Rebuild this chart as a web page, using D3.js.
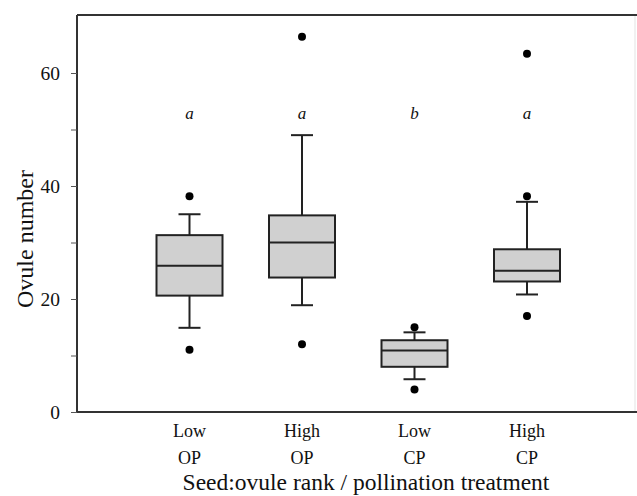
<!DOCTYPE html>
<html>
<head>
<meta charset="utf-8">
<script src="https://cdn.jsdelivr.net/npm/d3@7"></script>
<style>
  body { margin: 0; background: #fff; }
  text { font-family: "Liberation Serif", "Times New Roman", serif; fill: #111; }
</style>
</head>
<body>
<script>
var rank = ["Low", "High", "Low", "High"];
var treatment = ["OP", "OP", "CP", "CP"];
var q1 = [20.6, 23.8, 8.0, 23.1];
var median = [25.9, 30.0, 10.9, 25.0];
var q3 = [31.3, 34.8, 12.7, 28.8];
var whiskerLow = [14.9, 18.9, 5.8, 20.8];
var whiskerHigh = [35.0, 49.0, 14.1, 37.2];
var outliers = [[38.2, 11.0], [66.4, 12.0], [15.0, 4.0], [63.4, 38.2, 17.0]];
var letters = ["a", "a", "b", "a"];
var letterLevel = 53;
var yTicks = [0, 10, 20, 30, 40, 50, 60];

var width = 637,
    height = 496;

var idx = d3.range(rank.length);

var x = d3.scalePoint()
    .domain(idx)
    .range([189.5, 527]);

var y = d3.scaleLinear()
    .domain([0, 70])
    .range([412, 16.5]);

var boxW = 66, capW = 22;

var svg = d3.select("body").append("svg")
    .attr("width", width)
    .attr("height", height);

// frame: top and bottom lines run to the edge, faint right edge
svg.append("line")
    .attr("x1", 635).attr("x2", 635)
    .attr("y1", 15).attr("y2", 412)
    .style("stroke", "#ececec").style("stroke-width", 1.5);
svg.append("line")
    .attr("x1", 77).attr("x2", width)
    .attr("y1", 15).attr("y2", 15)
    .style("stroke", "#333").style("stroke-width", 2);
svg.append("line")
    .attr("x1", 77).attr("x2", width)
    .attr("y1", 412).attr("y2", 412)
    .style("stroke", "#333").style("stroke-width", 2);

var yAxis = svg.append("g")
    .attr("transform", "translate(77,0)")
    .call(d3.axisLeft(y)
      .tickValues(yTicks)
      .tickSize(6)
      .tickPadding(11)
      .tickFormat(function(d) { return d % 20 === 0 ? d : ""; }));

yAxis.select(".domain")
    .attr("d", "M0,15V412")
    .style("stroke", "#333").style("stroke-width", 2);
yAxis.selectAll(".tick line").style("stroke", "#555");
yAxis.selectAll(".tick text")
    .style("font-family", "Liberation Serif, serif")
    .style("font-size", "19.5px")
    .style("fill", "#111");

var g = svg.selectAll(".box")
    .data(idx)
  .enter().append("g")
    .attr("class", "box");

// whiskers
g.append("line")
    .attr("x1", function(i) { return x(i); })
    .attr("x2", function(i) { return x(i); })
    .attr("y1", function(i) { return y(whiskerHigh[i]); })
    .attr("y2", function(i) { return y(q3[i]); })
    .style("stroke", "#222").style("stroke-width", 2);
g.append("line")
    .attr("x1", function(i) { return x(i); })
    .attr("x2", function(i) { return x(i); })
    .attr("y1", function(i) { return y(q1[i]); })
    .attr("y2", function(i) { return y(whiskerLow[i]); })
    .style("stroke", "#222").style("stroke-width", 2);
g.append("line")
    .attr("x1", function(i) { return x(i) - capW / 2; })
    .attr("x2", function(i) { return x(i) + capW / 2; })
    .attr("y1", function(i) { return y(whiskerHigh[i]); })
    .attr("y2", function(i) { return y(whiskerHigh[i]); })
    .style("stroke", "#222").style("stroke-width", 2);
g.append("line")
    .attr("x1", function(i) { return x(i) - capW / 2; })
    .attr("x2", function(i) { return x(i) + capW / 2; })
    .attr("y1", function(i) { return y(whiskerLow[i]); })
    .attr("y2", function(i) { return y(whiskerLow[i]); })
    .style("stroke", "#222").style("stroke-width", 2);

g.append("rect")
    .attr("x", function(i) { return x(i) - boxW / 2; })
    .attr("y", function(i) { return y(q3[i]); })
    .attr("width", boxW)
    .attr("height", function(i) { return y(q1[i]) - y(q3[i]); })
    .style("fill", "#d0d0d0")
    .style("stroke", "#222").style("stroke-width", 2);

g.append("line")
    .attr("x1", function(i) { return x(i) - boxW / 2; })
    .attr("x2", function(i) { return x(i) + boxW / 2; })
    .attr("y1", function(i) { return y(median[i]); })
    .attr("y2", function(i) { return y(median[i]); })
    .style("stroke", "#222").style("stroke-width", 2);

g.selectAll(".outlier")
    .data(function(i) { return outliers[i].map(function(v) { return [i, v]; }); })
  .enter().append("circle")
    .attr("class", "outlier")
    .attr("cx", function(d) { return x(d[0]); })
    .attr("cy", function(d) { return y(d[1]); })
    .attr("r", 4)
    .style("fill", "#000");

g.append("text")
    .attr("x", function(i) { return x(i); })
    .attr("y", y(letterLevel))
    .attr("dy", ".35em")
    .attr("text-anchor", "middle")
    .style("font-style", "italic")
    .style("font-size", "17px")
    .text(function(i) { return letters[i]; });

// category labels, two lines
g.append("text")
    .attr("x", function(i) { return x(i); })
    .attr("y", 437)
    .attr("text-anchor", "middle")
    .style("font-size", "18px")
    .text(function(i) { return rank[i]; });
g.append("text")
    .attr("x", function(i) { return x(i); })
    .attr("y", 464)
    .attr("text-anchor", "middle")
    .style("font-size", "18px")
    .text(function(i) { return treatment[i]; });

svg.append("text")
    .attr("x", 366)
    .attr("y", 490)
    .attr("text-anchor", "middle")
    .style("font-size", "23.5px")
    .text("Seed:ovule rank / pollination treatment");

svg.append("text")
    .attr("transform", "translate(33,239) rotate(-90)")
    .attr("text-anchor", "middle")
    .style("font-size", "24px")
    .text("Ovule number");
</script>
</body>
</html>
